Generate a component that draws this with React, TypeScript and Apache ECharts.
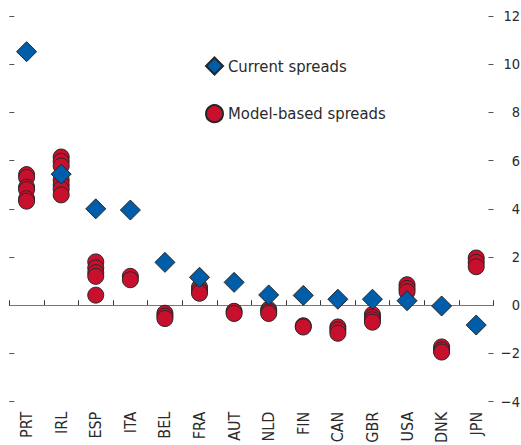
import React, { useEffect, useRef } from "react";
import * as echarts from "echarts";

const categories = ["PRT", "IRL", "ESP", "ITA", "BEL", "FRA", "AUT", "NLD", "FIN", "CAN", "GBR", "USA", "DNK", "JPN"];

const currentSpreads = [10.52, 5.44, 4.0, 3.95, 1.78, 1.16, 0.95, 0.43, 0.41, 0.25, 0.25, 0.19, -0.03, -0.82];

const modelSpreads: number[][] = [
  [5.42, 5.3, 4.9, 4.8, 4.42, 4.32],
  [6.15, 5.97, 5.78, 5.2, 5.0, 4.82, 4.58],
  [1.8, 1.55, 1.35, 1.2, 0.42],
  [1.2, 1.06],
  [-0.33, -0.45, -0.55],
  [0.75, 0.6, 0.5],
  [-0.25, -0.34],
  [-0.17, -0.26, -0.34],
  [-0.85, -0.9],
  [-0.9, -1.02, -1.16],
  [-0.38, -0.5, -0.6, -0.7],
  [0.85, 0.7, 0.56],
  [-1.73, -1.85, -1.94],
  [1.96, 1.78, 1.6],
];

const yTicks = { min: -4, max: 12, interval: 2 };

const FONT = '"Liberation Sans Narrow", "DejaVu Sans Condensed", "Roboto Condensed", "Liberation Sans", sans-serif';
const TEXT = "#2a2a2a";
const BLUE = "#005DAA";
const RED = "#C8102E";
const EDGE = "#262626";

export default function App() {
  const ref = useRef<HTMLDivElement>(null);

  useEffect(() => {
    if (!ref.current) return;
    const chart = echarts.init(ref.current, undefined, { renderer: "svg" });

    const modelData: [string, number][] = [];
    modelSpreads.forEach((vals, i) => {
      vals.forEach((v) => modelData.push([categories[i], v]));
    });
    const currentData: [string, number][] = currentSpreads.map((v, i) => [categories[i], v]);

    chart.setOption({
      animation: false,
      backgroundColor: "#ffffff",
      grid: {
        left: 9.3,
        right: 27.5,
        top: 16,
        bottom: 43.3,
        containLabel: false,
        outerBoundsMode: "none",
      },
      legend: {
        orient: "vertical",
        left: 205,
        top: 56.5,
        padding: 0,
        itemWidth: 17,
        itemHeight: 17,
        itemGap: 28.7,
        data: ["Current spreads", "Model-based spreads"],
        textStyle: { fontFamily: FONT, fontSize: 16.5, color: TEXT, lineHeight: 17 },
      },
      xAxis: {
        type: "category",
        data: categories,
        boundaryGap: true,
        axisLine: { show: true, lineStyle: { color: "#333", width: 1 } },
        axisTick: { show: true, inside: true, length: 5, lineStyle: { color: "#333" } },
        axisLabel: {
          rotate: 90,
          margin: 10,
          fontFamily: FONT,
          fontSize: 16,
          color: TEXT,
          interval: 0,
        },
        splitLine: { show: false },
      },
      yAxis: [
        {
          type: "value",
          position: "left",
          min: yTicks.min,
          max: yTicks.max,
          interval: yTicks.interval,
          axisLine: { show: false },
          axisTick: { show: true, inside: true, length: 5, lineStyle: { color: "#555" } },
          axisLabel: { show: false },
          splitLine: { show: false },
        },
        {
          type: "value",
          position: "right",
          min: yTicks.min,
          max: yTicks.max,
          interval: yTicks.interval,
          axisLine: { show: false },
          axisTick: { show: true, inside: true, length: 5, lineStyle: { color: "#555" } },
          axisLabel: {
            show: true,
            align: "right",
            margin: 26.5,
            fontFamily: FONT,
            fontSize: 14.5,
            color: TEXT,
            formatter: (v: number) => String(v).replace("-", "\u2212"),
          },
          splitLine: { show: false },
        },
      ],
      series: [
        {
          name: "Model-based spreads",
          type: "scatter",
          yAxisIndex: 0,
          symbol: "circle",
          symbolSize: 16,
          itemStyle: { color: RED, borderColor: EDGE, borderWidth: 1, opacity: 1 },
          data: modelData,
          markLine: {
            silent: true,
            symbol: ["none", "none"],
            label: { show: false },
            lineStyle: { color: "#777", width: 1, type: "solid" },
            data: [{ yAxis: 0 }],
            z: 1,
          },
          z: 2,
        },
        {
          name: "Current spreads",
          type: "scatter",
          yAxisIndex: 0,
          symbol: "diamond",
          symbolSize: 20,
          itemStyle: { color: BLUE, borderColor: EDGE, borderWidth: 1, opacity: 1 },
          data: currentData,
          z: 3,
        },
      ],
    });

    return () => chart.dispose();
  }, []);

  return (
    <div
      ref={ref}
      style={{ position: "fixed", left: 0, top: 0, width: 521, height: 445, background: "#fff" }}
    />
  );
}
